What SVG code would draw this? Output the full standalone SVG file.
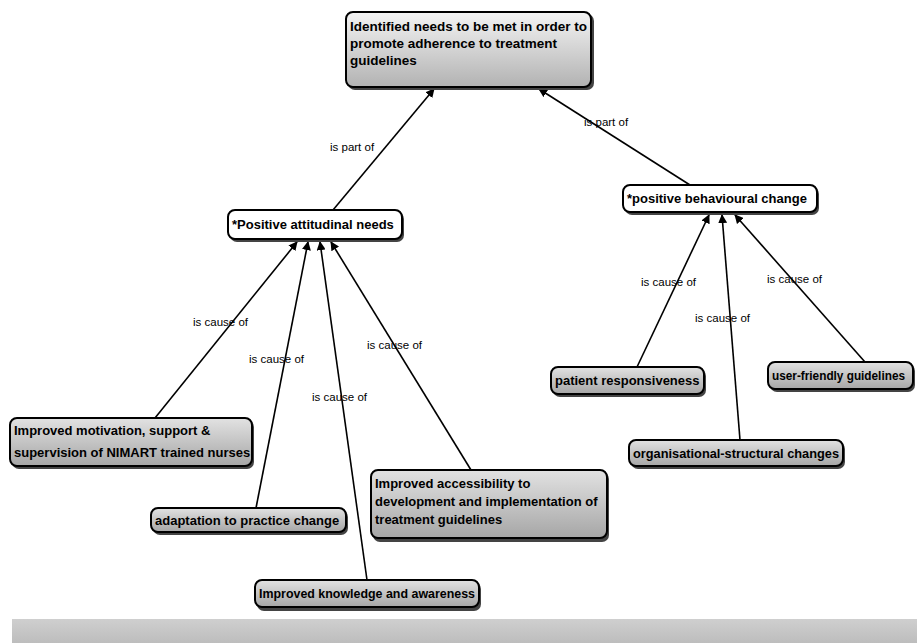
<svg xmlns="http://www.w3.org/2000/svg" width="917" height="643" viewBox="0 0 917 643">
  <defs>
    <linearGradient id="grayFill" x1="0" y1="0" x2="0" y2="1">
      <stop offset="0" stop-color="#e2e2e2"/>
      <stop offset="1" stop-color="#a6a6a6"/>
    </linearGradient>
    <linearGradient id="topFill" x1="0" y1="0" x2="0" y2="1">
      <stop offset="0" stop-color="#f4f4f4"/>
      <stop offset="1" stop-color="#b2b2b2"/>
    </linearGradient>
    <linearGradient id="bandFill" x1="0" y1="0" x2="0" y2="1">
      <stop offset="0" stop-color="#cfcfcf"/>
      <stop offset="1" stop-color="#bdbdbd"/>
    </linearGradient>
    <marker id="arrow" viewBox="0 0 10 10" refX="9" refY="5" markerWidth="9" markerHeight="9" markerUnits="userSpaceOnUse" orient="auto">
      <path d="M0,0 L10,5 L0,10 z" fill="#000"/>
    </marker>
  </defs>
  <style>
    .box { stroke: #000; stroke-width: 2; }
    .shadow { fill: #444; }
    .white { fill: #fff; }
    .gray { fill: url(#grayFill); }
    .node text { font-family: "Liberation Sans", Arial, sans-serif; font-weight: bold; font-size: 13px; fill: #000; }
    #goal text { font-size: 13.5px; }
    #userfriendly text { font-size: 12.5px; }
    .edge { stroke: #000; stroke-width: 1.6; fill: none; marker-end: url(#arrow); }
    .lbl { font-family: "Liberation Sans", Arial, sans-serif; font-size: 11.5px; fill: #000; }
  </style>

  <rect width="917" height="643" fill="#fff"/>

  <!-- connectors -->
  <g id="connectors">
    <line class="edge" x1="333" y1="210" x2="434" y2="89"/>
    <line class="edge" x1="690" y1="185" x2="539" y2="89"/>
    <line class="edge" x1="155" y1="418" x2="297" y2="242"/>
    <line class="edge" x1="256" y1="508" x2="308" y2="242"/>
    <line class="edge" x1="367" y1="580" x2="320" y2="242"/>
    <line class="edge" x1="471" y1="470" x2="331" y2="242"/>
    <line class="edge" x1="637" y1="367" x2="709" y2="215"/>
    <line class="edge" x1="740" y1="440" x2="722" y2="215"/>
    <line class="edge" x1="865" y1="362" x2="735" y2="215"/>
    <text class="lbl" x="330" y="151">is part of</text>
    <text class="lbl" x="584" y="126">is part of</text>
    <text class="lbl" x="193" y="326">is cause of</text>
    <text class="lbl" x="249" y="363">is cause of</text>
    <text class="lbl" x="312" y="401">is cause of</text>
    <text class="lbl" x="367" y="349">is cause of</text>
    <text class="lbl" x="641" y="286">is cause of</text>
    <text class="lbl" x="695" y="322">is cause of</text>
    <text class="lbl" x="767" y="283">is cause of</text>
  </g>

  <!-- nodes -->
  <g id="goal" class="node">
    <rect class="shadow" x="348" y="14" width="246" height="76" rx="7"/>
    <rect class="box" x="346" y="12" width="245" height="75" rx="7" fill="url(#topFill)"/>
    <text x="350" y="31">Identified needs to be met in order to</text>
    <text x="350" y="48">promote adherence to treatment</text>
    <text x="350" y="65">guidelines</text>
  </g>

  <g id="attitudinal" class="node">
    <rect class="shadow" x="230" y="212" width="174" height="30" rx="7"/>
    <rect class="box white" x="228" y="210" width="174" height="29" rx="7"/>
    <text x="232" y="229">*Positive attitudinal needs</text>
  </g>

  <g id="behavioural" class="node">
    <rect class="shadow" x="625" y="187" width="194" height="28" rx="7"/>
    <rect class="box white" x="623" y="185" width="194" height="27" rx="7"/>
    <text x="627" y="203">*positive behavioural change</text>
  </g>

  <g id="motivation" class="node">
    <rect class="shadow" x="12" y="420" width="242" height="49" rx="7"/>
    <rect class="box gray" x="10" y="418" width="242" height="48" rx="7"/>
    <text x="14" y="435">Improved motivation, support &amp;</text>
    <text x="14" y="457">supervision of NIMART trained nurses</text>
  </g>

  <g id="adaptation" class="node">
    <rect class="shadow" x="153" y="510" width="195" height="25" rx="7"/>
    <rect class="box gray" x="151" y="508" width="195" height="24" rx="7"/>
    <text x="155" y="525">adaptation to practice change</text>
  </g>

  <g id="knowledge" class="node">
    <rect class="shadow" x="257" y="582" width="224" height="29" rx="7"/>
    <rect class="box gray" x="255" y="580" width="224" height="27" rx="7"/>
    <text x="259" y="598" textLength="216" lengthAdjust="spacingAndGlyphs">Improved knowledge and awareness</text>
  </g>

  <g id="accessibility" class="node">
    <rect class="shadow" x="373" y="472" width="236" height="70" rx="7"/>
    <rect class="box gray" x="371" y="470" width="236" height="68" rx="7"/>
    <text x="375" y="488">Improved accessibility to</text>
    <text x="375" y="506">development and implementation of</text>
    <text x="375" y="524">treatment guidelines</text>
  </g>

  <g id="patient" class="node">
    <rect class="shadow" x="553" y="369" width="153" height="28" rx="7"/>
    <rect class="box gray" x="551" y="367" width="153" height="27" rx="7"/>
    <text x="555" y="385">patient responsiveness</text>
  </g>

  <g id="userfriendly" class="node">
    <rect class="shadow" x="770" y="364" width="145" height="28" rx="7"/>
    <rect class="box gray" x="768" y="362" width="145" height="27" rx="7"/>
    <text x="772" y="380" textLength="133" lengthAdjust="spacingAndGlyphs">user-friendly guidelines</text>
  </g>

  <g id="organisational" class="node">
    <rect class="shadow" x="631" y="442" width="214" height="27" rx="7"/>
    <rect class="box gray" x="629" y="440" width="214" height="26" rx="7"/>
    <text x="633" y="458" textLength="206" lengthAdjust="spacingAndGlyphs">organisational-structural changes</text>
  </g>

  <!-- grey band along the bottom edge -->
  <rect x="12" y="619" width="905" height="24" fill="url(#bandFill)"/>
</svg>
